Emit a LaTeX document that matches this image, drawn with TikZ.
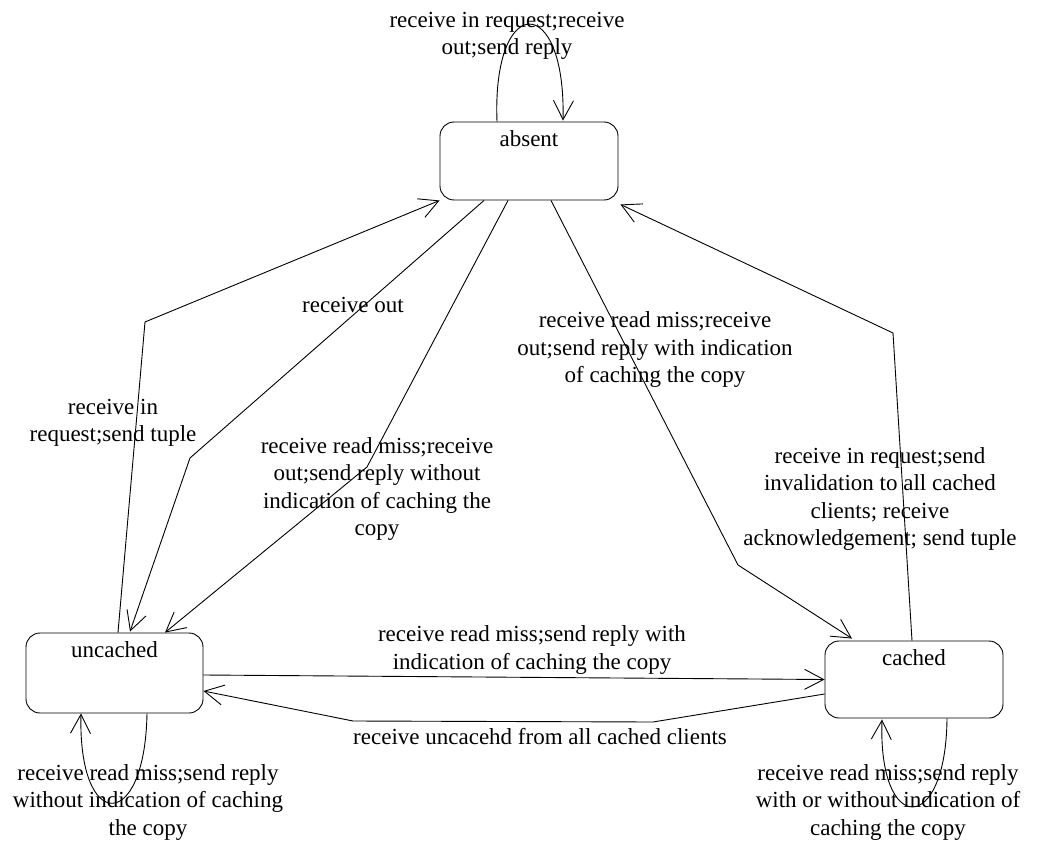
\documentclass[tikz,border=0pt]{standalone}
\usepackage{fontspec}
\setmainfont{Liberation Serif}
\usetikzlibrary{arrows.meta,calc}

\tikzset{
  statebox/.style={draw, line width=0.9pt, rounded corners=14pt, inner sep=0pt},
  statename/.style={anchor=north, inner sep=0pt, yshift=-9pt},
  trans/.style={line width=0.9pt, -{Straight Barb[length=19pt,width=20pt,line width=0.9pt]}},
  txt/.style={align=center, inner sep=0pt, font=\fontsize{23}{27.5}\selectfont},
}

\begin{document}
\begin{tikzpicture}[x=1pt,y=-1pt]
\useasboundingbox (0,0) rectangle (1047,845);

% states
\node[statebox, minimum width=178pt, minimum height=78pt,
      label={[statename,txt]north:absent}] (absent) at (529,161) {};
\node[statebox, minimum width=177pt, minimum height=80pt,
      label={[statename,txt]north:uncached}] (uncached) at (114.5,673) {};
\node[statebox, minimum width=178pt, minimum height=77pt,
      label={[statename,txt]north:cached}] (cached) at (914,679.5) {};

% bend points of the polyline transitions
\coordinate (b2) at (145,322);
\coordinate (b3) at (190,458);
\coordinate (b4) at (367,467);
\coordinate (b5) at (738,565);
\coordinate (b6) at (893,333);
\coordinate (b8a) at (653,722);
\coordinate (b8b) at (353,721);

% self loops
\draw[trans] ($(absent.north)+(-32,0)$) .. controls (492,-8) and (566,-8) .. ($(absent.north)+(34,-1)$);
\draw[trans] ($(uncached.south)+(32.5,0)$) .. controls (145,833) and (78,833) .. ($(uncached.south)+(-33.5,0)$);
\draw[trans] ($(cached.south)+(33,0)$) .. controls (946,836) and (878,836) .. ($(cached.south)+(-32,1)$);

% transitions between states
\draw[trans] ($(uncached.north)+(3.5,0)$) -- (b2) -- (absent.south west);
\draw[trans] ($(absent.south)+(-45,0)$) -- (b3) -- ($(uncached.north)+(15.5,-1)$);
\draw[trans] ($(absent.south)+(-21,0)$) -- (b4) -- ($(uncached.north)+(50.5,0)$);
\draw[trans] ($(absent.south)+(22,0)$) -- (b5) -- ($(cached.north)+(-62,-2)$);
\draw[trans] ($(cached.north)+(-2,0)$) -- (b6) -- ($(absent.south east)+(2,4)$);
\draw[trans] ($(uncached.east)+(0,2)$) -- (cached.west);
\draw[trans] ($(cached.west)+(0,14.5)$) -- (b8a) -- (b8b) -- ($(uncached.east)+(0,18)$);

% transition labels
\node[txt] (l1) at (507,36) {receive in request;receive\\out;send reply};
\node[txt] (l2) at (353,305) {receive out};
\node[txt] (l3) at (113,423) {receive in\\request;send tuple};
\node[txt] (l4) at (377,489) {receive read miss;receive\\out;send reply without\\indication of caching the\\copy};
\node[txt] (l5) at (655,350) {receive read miss;receive\\out;send reply with indication\\of caching the copy};
\node[txt] (l6) at (880,499) {receive in request;send\\invalidation to all cached\\clients; receive\\acknowledgement; send tuple};
\node[txt] (l7) at (532,650) {receive read miss;send reply with\\indication of caching the copy};
\node[txt] (l8) at (540,737) {receive uncacehd from all cached clients};
\node[txt] (l9) at (148,802) {receive read miss;send reply\\without indication of caching\\the copy};
\node[txt] (l10) at (888,802) {receive read miss;send reply\\with or without indication of\\caching the copy};
\end{tikzpicture}
\end{document}
